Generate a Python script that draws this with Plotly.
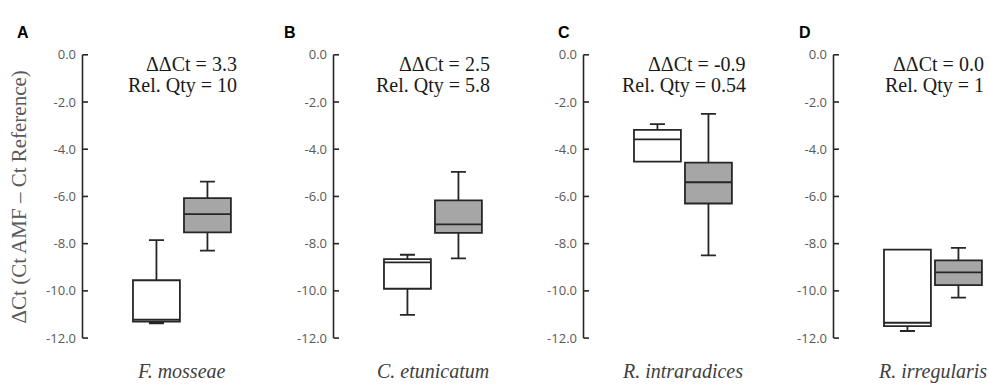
import plotly.graph_objects as go

# ---------------- data ----------------
panels = ["A", "B", "C", "D"]
species = ["F. mosseae", "C. etunicatum", "R. intraradices", "R. irregularis"]
ddct = ["3.3", "2.5", "-0.9", "0.0"]
relqty = ["10", "5.8", "0.54", "1"]

# white box (first group) statistics per panel
w_lower = [-11.38, -11.02, -4.53, -11.70]
w_q1 = [-11.30, -9.91, -4.53, -11.49]
w_med = [-11.22, -8.79, -3.58, -11.35]
w_q3 = [-9.55, -8.66, -3.18, -8.25]
w_upper = [-7.85, -8.47, -2.94, -8.25]

# grey box (second group) statistics per panel
g_lower = [-8.30, -8.62, -8.50, -10.29]
g_q1 = [-7.52, -7.54, -6.30, -9.76]
g_med = [-6.75, -7.18, -5.40, -9.22]
g_q3 = [-6.07, -6.17, -4.57, -8.71]
g_upper = [-5.37, -4.96, -2.50, -8.18]

tick_vals = [0, -2, -4, -6, -8, -10, -12]
tick_text = ["0.0", "-2.0", "-4.0", "-6.0", "-8.0", "-10.0", "-12.0"]
y_range = [-12, 0]

# ---------------- layout geometry ----------------
W, H = 989, 390
axis_px = [83, 334, 584, 834]
right_px = [240, 491, 741, 989]
px_per_unit = 51.0
x0 = -1.44
ydom = [1 - 345 / H, 1 - 48 / H]
tick_len_px = 5
axis_lw = 1.6

line_col = "#262626"
fig = go.Figure()

layout = dict(
    width=W, height=H, margin=dict(l=0, r=0, t=0, b=0),
    paper_bgcolor="white", plot_bgcolor="white", showlegend=False,
)


def y_to_paper(v):
    return ydom[0] + (v - y_range[0]) / (y_range[1] - y_range[0]) * (ydom[1] - ydom[0])


annotations = []
shapes = []
for i in range(4):
    xa = "x" if i == 0 else f"x{i+1}"
    ya = "y" if i == 0 else f"y{i+1}"
    xk = "xaxis" if i == 0 else f"xaxis{i+1}"
    yk = "yaxis" if i == 0 else f"yaxis{i+1}"
    span = (right_px[i] - axis_px[i]) / px_per_unit
    layout[xk] = dict(type="linear", domain=[axis_px[i] / W, right_px[i] / W],
                      range=[x0, x0 + span],
                      showline=False, showticklabels=False, ticks="", showgrid=False,
                      zeroline=False, anchor=ya)
    layout[yk] = dict(type="linear", domain=ydom, range=y_range, anchor=xa,
                      showline=False, ticks="",
                      tickvals=tick_vals, ticktext=tick_text,
                      tickfont=dict(family="Open Sans", size=13, color="#595959"),
                      ticklabelstandoff=6,
                      showgrid=False, zeroline=False)

    # axis line and inside ticks as paper-referenced shapes (not clipped by the subplot)
    ax_paper = (axis_px[i] - 0.5) / W
    tick_end = (axis_px[i] + tick_len_px) / W
    shapes.append(dict(type="line", xref="paper", yref="paper",
                       x0=ax_paper, x1=ax_paper,
                       y0=y_to_paper(y_range[0]), y1=y_to_paper(y_range[1]),
                       line=dict(color=line_col, width=axis_lw), layer="above"))
    for tv in tick_vals:
        yp = y_to_paper(tv)
        shapes.append(dict(type="line", xref="paper", yref="paper",
                           x0=ax_paper, x1=tick_end, y0=yp, y1=yp,
                           line=dict(color=line_col, width=axis_lw), layer="above"))

    fig.add_trace(go.Box(
        x=[0], q1=[w_q1[i]], median=[w_med[i]], q3=[w_q3[i]],
        lowerfence=[w_lower[i]], upperfence=[w_upper[i]],
        width=0.92, whiskerwidth=0.32, fillcolor="white",
        line=dict(color=line_col, width=1.8), boxpoints=False,
        xaxis=xa, yaxis=ya, hoverinfo="skip"))
    fig.add_trace(go.Box(
        x=[1], q1=[g_q1[i]], median=[g_med[i]], q3=[g_q3[i]],
        lowerfence=[g_lower[i]], upperfence=[g_upper[i]],
        width=0.92, whiskerwidth=0.32, fillcolor="#a6a6a6",
        line=dict(color=line_col, width=1.8), boxpoints=False,
        xaxis=xa, yaxis=ya, hoverinfo="skip"))

    letter_x = [15, 282, 556, 797][i]
    annotations.append(dict(text=f"<b>{panels[i]}</b>", xref="paper", yref="paper",
                            x=letter_x / W, y=1 - 25 / H, xanchor="left", yanchor="middle",
                            showarrow=False,
                            font=dict(family="Liberation Sans", size=16, color="black")))
    rx = [239, 492, 748, 986][i]
    annotations.append(dict(text=f"ΔΔCt = {ddct[i]}", xref="paper", yref="paper",
                            x=rx / W, y=1 - 58 / H, xanchor="right", yanchor="middle",
                            showarrow=False,
                            font=dict(family="Liberation Serif", size=20, color="#1a1a1a")))
    annotations.append(dict(text=f"Rel. Qty = {relqty[i]}", xref="paper", yref="paper",
                            x=rx / W, y=1 - 80 / H, xanchor="right", yanchor="middle",
                            showarrow=False,
                            font=dict(family="Liberation Serif", size=20, color="#1a1a1a")))
    annotations.append(dict(text=f"<i>{species[i]}</i>", xref=xa, yref="paper",
                            x=0.5, y=1 - 380 / H, xanchor="center", yanchor="middle",
                            showarrow=False,
                            font=dict(family="Liberation Serif", size=20, color="#404040")))

annotations.append(dict(text="ΔCt (Ct AMF – Ct Reference)", xref="paper", yref="paper",
                        x=18.5 / W, y=1 - 197 / H, xanchor="center", yanchor="middle",
                        textangle=-90, showarrow=False,
                        font=dict(family="Liberation Serif", size=21, color="#595959")))

layout["annotations"] = annotations
layout["shapes"] = shapes
fig.update_layout(**layout)
fig.write_html("out.html")
